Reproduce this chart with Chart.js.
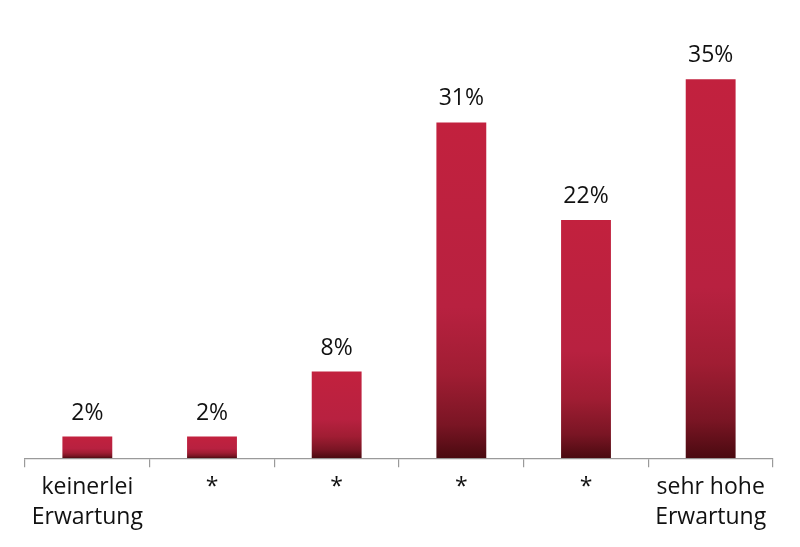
<!DOCTYPE html>
<html><head><meta charset="utf-8">
<script src="https://cdn.jsdelivr.net/npm/chart.js@4/dist/chart.umd.min.js"></script>
<style>html,body{margin:0;padding:0;background:#fff}#wrap{width:800px;height:547px}</style>
</head><body><div id="wrap"><canvas id="c"></canvas></div>
<script>
const categories = [["keinerlei","Erwartung"], "*", "*", "*", "*", ["sehr hohe","Erwartung"]];
const values = [2, 2, 8, 31, 22, 35];
const valueLabels = ["2%", "2%", "8%", "31%", "22%", "35%"];

const FONT = "'Open Sans', Lato, sans-serif";

function barGradient(ctx) {
  const chart = ctx.chart;
  const ys = chart.scales && chart.scales.y;
  if (!ys || !chart.chartArea) return '#C0213D';
  const top = ys.getPixelForValue(values[ctx.dataIndex]);
  const bottom = ys.getPixelForValue(0);
  if (!isFinite(top) || !isFinite(bottom) || bottom - top < 1) return '#C0213D';
  const g = chart.ctx.createLinearGradient(0, top, 0, bottom);
  g.addColorStop(0, '#C2213E');
  g.addColorStop(0.55, '#B82140');
  g.addColorStop(0.75, '#A01D33');
  g.addColorStop(0.9, '#7A1524');
  g.addColorStop(1, '#4A0A10');
  return g;
}

const labelPlugin = {
  id: 'valueLabels',
  afterDatasetsDraw(chart) {
    const c = chart.ctx;
    c.save();
    c.font = "23px " + FONT;
    c.fillStyle = '#111';
    c.textAlign = 'center';
    c.textBaseline = 'alphabetic';
    chart.getDatasetMeta(0).data.forEach((el, i) => {
      c.fillText(valueLabels[i], el.x, el.y - 17);
    });
    c.restore();
  }
};

new Chart(document.getElementById('c'), {
  type: 'bar',
  data: {
    labels: categories,
    datasets: [{
      data: values,
      backgroundColor: barGradient,
      borderWidth: 0,
      categoryPercentage: 1,
      barPercentage: 0.4
    }]
  },
  options: {
    responsive: true,
    maintainAspectRatio: false,
    animation: false,
    events: [],
    layout: { padding: { left: 25, right: 27, top: 25, bottom: 10 } },
    plugins: { legend: { display: false }, tooltip: { enabled: false } },
    scales: {
      y: { display: false, min: 0, max: 40 },
      x: {
        grid: { display: true, drawOnChartArea: false, drawTicks: true, tickLength: 9, color: '#9a9a9a', lineWidth: 1.2, offset: true },
        border: { display: true, color: '#9a9a9a', width: 1.2 },
        ticks: { color: '#111', font: { family: FONT, size: 23, lineHeight: 1.3 }, padding: 5, maxRotation: 0, autoSkip: false }
      }
    }
  },
  plugins: [labelPlugin]
});
</script></body></html>
